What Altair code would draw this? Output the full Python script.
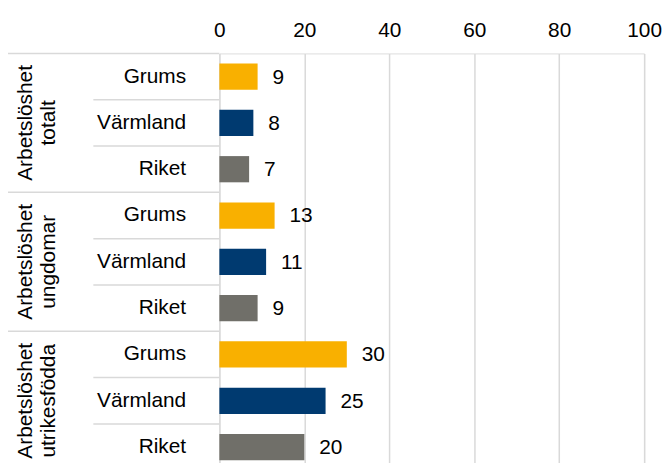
import altair as alt
import pandas as pd

# ---- data ----
group_line1 = ["Arbetslöshet", "Arbetslöshet", "Arbetslöshet"]
group_line2 = ["totalt", "ungdomar", "utrikesfödda"]
regions = ["Grums", "Värmland", "Riket"]
values = [9, 8, 7, 13, 11, 9, 30, 25, 20]
region_colors = ["#F9B000", "#003A70", "#706F69"]
x_ticks = [0, 20, 40, 60, 80, 100]

FONT = "Liberation Sans"
FS = 21

rows = []
i = 0
for g in range(len(group_line2)):
    for r in regions:
        rows.append({"key": f"{g}|{r}", "region": r, "value": values[i]})
        i += 1
df = pd.DataFrame(rows)
keys = list(df["key"])

# separator lines at row boundaries (full at group boundaries)
n_rows = len(keys)
seps = pd.DataFrame({
    "pos": list(range(n_rows + 1)),
    "full": [k % len(regions) == 0 for k in range(n_rows + 1)],
})
grp = pd.DataFrame({
    "center": [g * len(regions) + len(regions) / 2 for g in range(len(group_line2))],
    "l1": group_line1,
    "l2": group_line2,
})

band_scale = alt.Scale(paddingInner=0.434, paddingOuter=0.217)
yband = alt.Y(
    "key:N", sort=keys, scale=band_scale,
    axis=alt.Axis(title=None, labelExpr="split(datum.label, '|')[1]",
                  ticks=False, tickSize=0, domain=False, labelPadding=34,
                  labelFontSize=FS, labelFont=FONT, labelColor="#000000",
                  labelAlign="right"),
)
xq = alt.X(
    "value:Q",
    scale=alt.Scale(domain=[0, 100], nice=False),
    axis=alt.Axis(orient="top", title=None, values=x_ticks, domain=False,
                  ticks=False, tickSize=0, grid=True, gridColor="#D9D9D9",
                  gridWidth=1.5, labelFontSize=FS, labelFont=FONT,
                  labelColor="#000000", labelPadding=13, labelFlush=False),
)
color = alt.Color("region:N", scale=alt.Scale(domain=regions, range=region_colors),
                  legend=None)

bars = alt.Chart(df).mark_bar().encode(y=yband, x=xq, color=color)
labels = alt.Chart(df).mark_text(align="left", baseline="middle", dx=15, dy=1,
                                 fontSize=FS, font=FONT, color="#000000").encode(
    y=alt.Y("key:N", sort=keys, scale=band_scale, axis=None),
    x="value:Q", text="value:Q")

yq = alt.Scale(domain=[0, n_rows], reverse=True, nice=False, zero=False)

full_rules = alt.Chart(seps).transform_filter("datum.full").mark_rule(
    color="#D9D9D9", strokeWidth=1.5).encode(
    y=alt.Y("pos:Q", scale=yq, axis=None),
    x=alt.value(-213), x2=alt.value(0))
short_rules = alt.Chart(seps).transform_filter("!datum.full").mark_rule(
    color="#D9D9D9", strokeWidth=1.5).encode(
    y=alt.Y("pos:Q", scale=yq, axis=None),
    x=alt.value(-127), x2=alt.value(0))

g1 = alt.Chart(grp).mark_text(angle=270, align="center", baseline="middle",
                              fontSize=FS, font=FONT, color="#000000").encode(
    y=alt.Y("center:Q", scale=yq, axis=None), x=alt.value(-195), text="l1:N")
g2 = alt.Chart(grp).mark_text(angle=270, align="center", baseline="middle",
                              fontSize=FS, font=FONT, color="#000000").encode(
    y=alt.Y("center:Q", scale=yq, axis=None), x=alt.value(-172), text="l2:N")

chart = alt.layer(bars, labels, full_rules, short_rules, g1, g2).resolve_scale(
    y="independent"
).properties(
    width=428, height=420,
    autosize=alt.AutoSizeParams(type="none"),
    padding={"left": 213, "top": 44, "right": 18, "bottom": 0},
).configure_view(stroke=None).configure(background="white")

chart.save("out.html", embed_options={"renderer": "svg", "actions": False})
